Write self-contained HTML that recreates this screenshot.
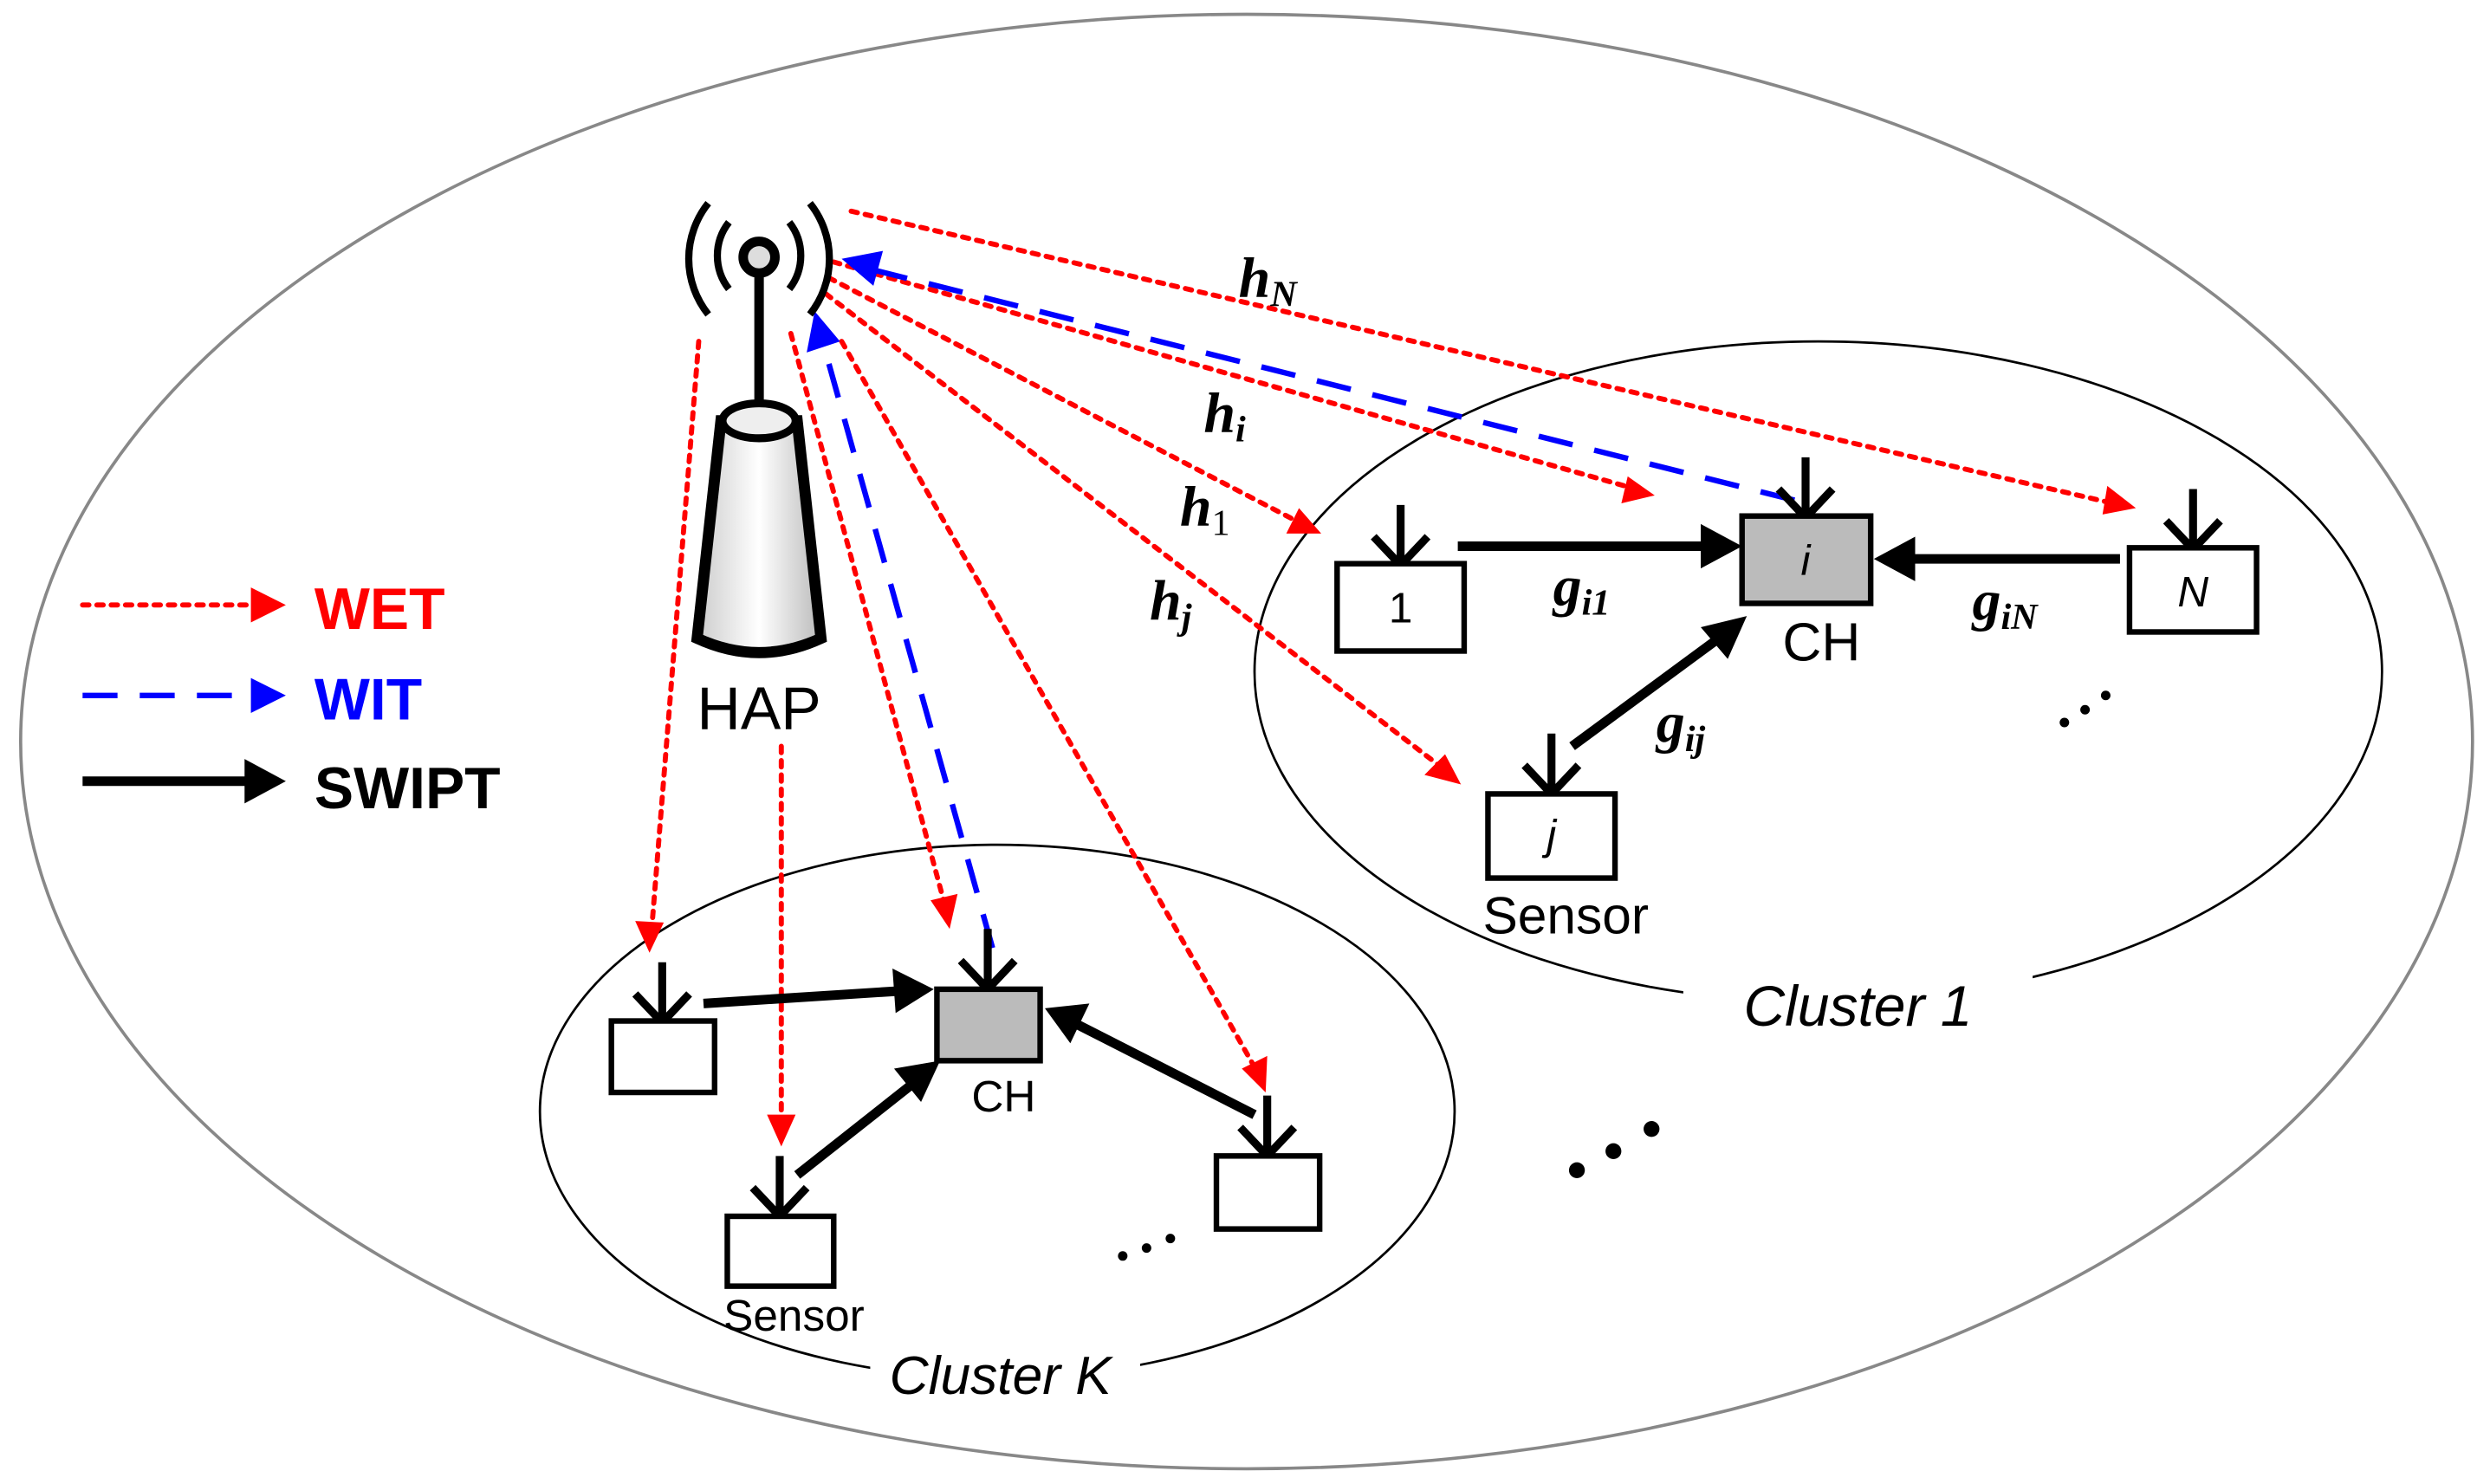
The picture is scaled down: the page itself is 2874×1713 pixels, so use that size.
<!DOCTYPE html><html><head><style>html,body{margin:0;padding:0;background:#fff}svg{display:block}</style></head><body>
<svg width="2874" height="1713" viewBox="0 0 1568 934.6" preserveAspectRatio="none" xmlns="http://www.w3.org/2000/svg" font-family="Liberation Sans, sans-serif">
<defs>
<linearGradient id="g" x1="0" x2="1"><stop offset="0" stop-color="#ccc"/><stop offset="0.5" stop-color="#fff"/><stop offset="1" stop-color="#bbb"/></linearGradient>
</defs>
<ellipse cx="785" cy="467" rx="772" ry="458" fill="none" stroke="#888" stroke-width="2"/>
<ellipse cx="1145" cy="423" rx="355" ry="208" fill="none" stroke="#000" stroke-width="1.5"/>
<rect x="1060" y="610" width="220" height="40" fill="#fff"/>
<text x="1170" y="646" font-size="36" font-style="italic" text-anchor="middle">Cluster 1</text>
<ellipse cx="628" cy="700" rx="288" ry="168" fill="none" stroke="#000" stroke-width="1.5"/>
<rect x="548" y="845" width="170" height="40" fill="#fff"/>
<text x="630" y="878" font-size="34" font-style="italic" text-anchor="middle">Cluster K</text>

<g stroke="red" stroke-width="3.2" stroke-dasharray="4,5" stroke-linecap="round" fill="none">
<path d="M536,133 L1335,318"/><path d="M525,165 L1030,308"/><path d="M522,175 L820,330"/><path d="M520,185 L910,485"/>
<path d="M440,215 L410,590"/><path d="M492,470 L492,705"/><path d="M498,210 L595,570"/><path d="M530,215 L790,672"/>
<path d="M52,381 L160,381"/>
</g>
<g fill="red">
<path d="M1345,320 l-18,-14 l-3,18z"/><path d="M1042,312 l-17,-12 l-4,17z"/><path d="M832,336 l-14,-16 l-8,16z"/><path d="M920,494 l-10,-19 l-13,13z"/>
<path d="M409,600 l-9,-20 l18,1z"/><path d="M492,722 l-9,-20 l18,0z"/><path d="M598,585 l-12,-18 l17,-4z"/><path d="M797,688 l-15,-15 l16,-8z"/>
<path d="M180,381 l-22,-11 l0,22z"/>
</g>
<g stroke="blue" stroke-width="3.5" stroke-dasharray="22,14" fill="none">
<path d="M1130,315 L550,170"/><path d="M625,597 L518,215"/><path d="M52,438 L160,438"/>
</g>
<g fill="blue"><path d="M530,163 l26,-5 l-6,22z"/><path d="M513,196 l-5,26 l21,-7z"/><path d="M180,438 l-22,-11 l0,22z"/></g>
<g stroke="#000" stroke-width="6" fill="none">
<path d="M52,492 L155,492"/><path d="M918,344 L1075,344"/><path d="M1335,352 L1200,352"/><path d="M990,470 L1085,400"/>
<path d="M443,632 L568,624"/><path d="M502,740 L578,680"/><path d="M790,702 L678,645"/>
</g>
<g fill="#000">
<path d="M180,492 l-26,-14 l0,28z"/><path d="M1097,344 l-26,-14 l0,28z"/><path d="M1180,352 l26,-14 l0,28z"/><path d="M1100,388 l-12,27 l-17,-20z"/>
<path d="M588,623 l-26,-13 l2,28z"/><path d="M592,668 l-12,26 l-17,-21z"/><path d="M658,635 l28,-3 l-12,25z"/>
</g>
<text x="198" y="396" font-size="37" font-weight="bold" fill="red">WET</text>
<text x="198" y="453" font-size="37" font-weight="bold" fill="blue">WIT</text>
<text x="198" y="509" font-size="37" font-weight="bold">SWIPT</text>

<g fill="none" stroke="#000" stroke-width="4.5">
<path d="M446,198 A56,56 0 0 1 446,128"/><path d="M510,128 A56,56 0 0 1 510,198"/>
<path d="M459,182 A34,34 0 0 1 459,140"/><path d="M497,140 A34,34 0 0 1 497,182"/>
</g>
<circle cx="478" cy="162" r="10" fill="#ddd" stroke="#000" stroke-width="6"/>
<path d="M478,172 L478,268" stroke="#000" stroke-width="6"/>
<path d="M454,265 L439,402 Q478,420 517,402 L502,265 Z" fill="url(#g)" stroke="#000" stroke-width="7"/>
<ellipse cx="478" cy="265" rx="23" ry="11" fill="#eee" stroke="#000" stroke-width="5"/>
<text x="478" y="459" font-size="38" text-anchor="middle">HAP</text>

<g stroke="#000" stroke-width="5" fill="none">
<path d="M882,318 v38 M865,338 l17,18 l17,-18"/>
<path d="M1137,288 v38 M1120,308 l17,18 l17,-18"/>
<path d="M1381,308 v38 M1364,328 l17,18 l17,-18"/>
<path d="M977,462 v38 M960,482 l17,18 l17,-18"/>
<path d="M417,606 v38 M400,626 l17,18 l17,-18"/>
<path d="M622,585 v38 M605,605 l17,18 l17,-18"/>
<path d="M491,728 v38 M474,748 l17,18 l17,-18"/>
<path d="M798,690 v38 M781,710 l17,18 l17,-18"/>
</g>
<g stroke="#000" stroke-width="3.5" fill="#fff">
<rect x="842" y="355" width="80" height="55"/><rect x="1341" y="345" width="80" height="53"/><rect x="937" y="500" width="80" height="53"/>
<rect x="1097" y="325" width="81" height="55" fill="#bbb"/>
<rect x="385" y="643" width="65" height="45"/><rect x="590" y="623" width="65" height="45" fill="#bbb"/>
<rect x="458" y="766" width="67" height="44"/><rect x="766" y="728" width="65" height="46"/>
</g>
<text x="882" y="392" font-size="27" text-anchor="middle">1</text>
<text x="1381" y="382" font-size="27" font-style="italic" text-anchor="middle">N</text>
<text x="977" y="535" font-size="27" font-style="italic" text-anchor="middle">j</text>
<text x="1137" y="362" font-size="27" font-style="italic" text-anchor="middle">i</text>
<text x="1147" y="416" font-size="34" text-anchor="middle">CH</text>
<text x="986" y="588" font-size="33" text-anchor="middle">Sensor</text>
<text x="632" y="700" font-size="28" text-anchor="middle">CH</text>
<text x="500" y="838" font-size="28" text-anchor="middle">Sensor</text>
<g font-family="Liberation Serif, serif" font-weight="bold" font-style="italic" font-size="36">
<text x="780" y="187">h<tspan font-size="23" dy="6">N</tspan></text>
<text x="758" y="272">h<tspan font-size="23" dy="6">i</tspan></text>
<text x="743" y="331">h<tspan font-size="23" dy="6" font-weight="normal" font-style="normal">1</tspan></text>
<text x="724" y="390">h<tspan font-size="23" dy="6">j</tspan></text>
<text x="978" y="381">g<tspan font-size="23" dy="6">i1</tspan></text>
<text x="1242" y="390">g<tspan font-size="23" dy="6">iN</tspan></text>
<text x="1043" y="467">g<tspan font-size="23" dy="6">ij</tspan></text>
</g>
<g fill="#000"><circle cx="1300" cy="455" r="3"/><circle cx="1313" cy="447" r="3"/><circle cx="1326" cy="438" r="3"/>
<circle cx="993" cy="737" r="5"/><circle cx="1016" cy="725" r="5"/><circle cx="1040" cy="711" r="5"/>
<circle cx="707" cy="791" r="3"/><circle cx="722" cy="786" r="3"/><circle cx="737" cy="780" r="3"/></g>
</svg>
</body></html>
